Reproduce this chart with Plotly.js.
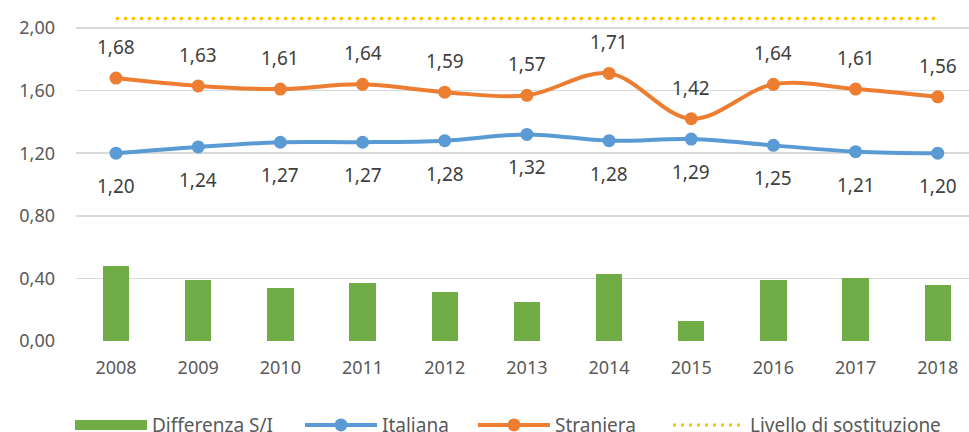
<!DOCTYPE html>
<html>
<head>
<meta charset="utf-8">
<script src="https://cdn.plot.ly/plotly-3.0.1.min.js"></script>
<style>html,body{margin:0;padding:0;background:#fff;}#chart{width:969px;height:432px;}
.legend .traces{opacity:1 !important;}</style>
</head>
<body>
<div id="chart"></div>
<script>
const years = ['2008','2009','2010','2011','2012','2013','2014','2015','2016','2017','2018'];
const italiana = [1.20,1.24,1.27,1.27,1.28,1.32,1.28,1.29,1.25,1.21,1.20];
const straniera = [1.68,1.63,1.61,1.64,1.59,1.57,1.71,1.42,1.64,1.61,1.56];
const differenza = [0.48,0.39,0.34,0.37,0.31,0.25,0.43,0.13,0.39,0.40,0.36];
const sostituzione = [2.06,2.06,2.06,2.06,2.06,2.06,2.06,2.06,2.06,2.06,2.06];

const FONT = 'Noto Sans, Open Sans, sans-serif';
const fmt = v => v.toFixed(2).replace('.', ',');

const traces = [
  {type:'bar', name:'Differenza S/I', x:years, y:differenza, width:0.32,
   marker:{color:'#70AD47'}, hoverinfo:'skip', showlegend:false},
  // legend entry for the bars (wide green box like the original)
  {type:'scatter', mode:'lines', name:'Differenza S/I', x:years, y:differenza,
   line:{color:'#70AD47', width:14}, visible:'legendonly', legend:'legend'},
  {type:'scatter', mode:'lines+markers', name:'Italiana', x:years, y:italiana, legend:'legend2',
   line:{color:'#5B9BD5', width:4, shape:'spline'}, marker:{color:'#5B9BD5', size:13}},
  {type:'scatter', mode:'lines+markers', name:'Straniera', x:years, y:straniera, legend:'legend3',
   line:{color:'#ED7D31', width:4, shape:'spline'}, marker:{color:'#ED7D31', size:13}},
  {type:'scatter', mode:'lines', name:'Livello di sostituzione', x:years, y:sostituzione, legend:'legend4',
   line:{color:'#FFC000', width:3, dash:'3px,5px'}}
];

const annotations = [];
for (let i = 0; i < years.length; i++) {
  annotations.push({xref:'x', yref:'y', x:i, y:straniera[i], text:fmt(straniera[i]), showarrow:false,
    yshift:31, font:{family:FONT, size:19, color:'#404040'}});
  annotations.push({xref:'x', yref:'y', x:i, y:italiana[i], text:fmt(italiana[i]), showarrow:false,
    yshift:-33, font:{family:FONT, size:19, color:'#404040'}});
}

function leg(px, w) {
  return {orientation:'h', xref:'container', yref:'container', x:px/969, xanchor:'left',
    y:0.016, yanchor:'middle', font:{family:FONT, size:19, color:'#595959'}, itemwidth:72,
    entrywidth:w, entrywidthmode:'pixels',
    bgcolor:'rgba(0,0,0,0)', borderwidth:0};
}

const layout = {
  width:969, height:432,
  margin:{l:76, r:0, t:10, b:91},
  paper_bgcolor:'#fff', plot_bgcolor:'#fff',
  separators:',.',
  font:{family:FONT, size:18, color:'#595959'},
  showlegend:true,
  xaxis:{type:'category', range:[-0.487, 10.38], showgrid:false, zeroline:false, showline:false,
    ticks:'', ticklabelstandoff:14, tickfont:{family:FONT, size:18, color:'#595959'}},
  yaxis:{range:[0, 2.115], tickvals:[0,0.4,0.8,1.2,1.6,2.0], tickformat:'.2f',
    showgrid:true, gridcolor:'#D9D9D9', gridwidth:1.5, zeroline:false, showline:false,
    ticks:'', ticklabelstandoff:20, tickfont:{family:FONT, size:18, color:'#595959'}},
  legend:leg(70, 145), legend2:leg(300, 95), legend3:leg(473, 105), legend4:leg(668, 200),
  bargap:0,
  annotations:annotations
};

Plotly.newPlot('chart', traces, layout, {displayModeBar:false, staticPlot:true});
</script>
</body>
</html>
